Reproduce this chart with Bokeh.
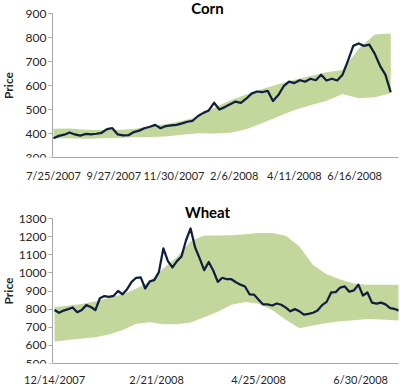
import numpy as np
from bokeh.plotting import figure
from bokeh.layouts import column
from bokeh.models import FixedTicker, Label, Range1d
from bokeh.embed import file_html
from bokeh.resources import INLINE

# ---------------- data ----------------
# Corn: price sampled every 4 trading days from 7/25/2007
corn_step = 4
corn_price = [380, 390, 395, 404, 396, 391, 398, 396, 399, 403,
              418, 422, 396, 392, 393, 406, 412, 422, 428, 436,
              422, 431, 434, 436, 442, 449, 453, 473, 486, 496,
              528, 500, 510, 522, 533, 528, 545, 566, 575, 572,
              578, 535, 560, 597, 616, 610, 622, 616, 628, 622,
              645, 621, 628, 621, 645, 703, 765, 775, 765, 770,
              733, 682, 645, 572]
# Corn band sampled every 12 trading days
corn_band_step = 12
corn_lower = [380, 380, 378, 380, 381, 384, 385, 388, 395, 401, 400,
              403, 418, 444, 471, 498, 518, 536, 565, 547, 551, 568]
corn_upper = [420, 421, 416, 415, 415, 419, 430, 440, 452, 471, 507,
              538, 562, 585, 605, 624, 640, 655, 665, 752, 813, 817]
corn_tick_labels = ["7/25/2007", "9/27/2007", "11/30/2007", "2/6/2008",
                    "4/11/2008", "6/16/2008"]

# Wheat: price sampled every 2 trading days from 12/14/2007
wheat_step = 2
wheat_price = [795, 780, 792, 800, 809, 783, 795, 822, 812, 795,
               860, 872, 868, 873, 900, 882, 910, 950, 973, 975,
               914, 953, 960, 1004, 1135, 1065, 1030, 1065, 1090, 1180,
               1245, 1140, 1080, 1015, 1060, 1013, 950, 973, 965, 965,
               948, 935, 925, 882, 880, 852, 826, 826, 820, 831,
               824, 808, 788, 800, 788, 770, 774, 780, 792, 822,
               840, 892, 894, 919, 925, 896, 903, 935, 875, 892,
               836, 830, 836, 826, 805, 801, 792]
# Wheat band sampled every 6 trading days
wheat_band_step = 6
wheat_lower = [621, 629, 638, 645, 660, 685, 719, 728, 716, 717, 726, 755, 786,
               824, 840, 830, 795, 742, 694, 710, 724, 733, 738, 745, 743, 738, 737]
wheat_upper = [811, 819, 828, 843, 862, 882, 912, 952, 1025, 1088, 1175, 1206, 1206,
               1207, 1213, 1220, 1220, 1205, 1145, 1043, 993, 964, 942, 935, 935, 935, 935]
wheat_tick_labels = ["12/14/2007", "2/21/2008", "4/25/2008", "6/30/2008"]

label_every = 45  # trading days between date labels

# ---------------- style ----------------
FONT = "Lato"
GREEN = "#C3D69B"
NAVY = "#0F1F3D"
AXIS = "#A6A6A6"
TEXT = "#262626"

W = 400
AXIS_PX = 52      # where the value axis sits
RIGHT_PX = 398    # right end of the plotting area


def make_chart(title, title_x, title_offset, price, step, lower, upper, band_step,
               tick_labels, y_lo, y_hi, x_axis, x_hi, height, top_pad, plot_h,
               bottom, standoff, ylabel_standoff):
    # frame spans full width and top; value axis placed with fixed_location/bounds
    ppu_x = (RIGHT_PX - AXIS_PX) / (x_hi - x_axis)
    x_lo = x_axis - AXIS_PX / ppu_x
    ppu_y = plot_h / (y_hi - y_lo)
    y_top = y_hi + top_pad / ppu_y

    p = figure(width=W, height=height, output_backend="svg", toolbar_location=None,
               x_range=Range1d(x_lo, x_hi), y_range=Range1d(y_lo, y_top),
               min_border_left=0, min_border_right=W - RIGHT_PX,
               min_border_top=0, min_border_bottom=bottom)
    xb = np.arange(len(lower)) * band_step
    p.varea(x=xb, y1=lower, y2=upper, fill_color=GREEN, fill_alpha=1.0)
    xp = np.arange(len(price)) * step
    p.line(xp, price, line_color=NAVY, line_width=2.25, line_join="round")

    ticks = [label_every * j for j in range(len(tick_labels))]
    p.xaxis.ticker = FixedTicker(ticks=ticks)
    p.xaxis.major_label_overrides = {t: lab for t, lab in zip(ticks, tick_labels)}
    p.xaxis.bounds = (x_axis, x_hi)
    p.xaxis.major_tick_out = 0
    p.xaxis.major_tick_in = 0
    p.xaxis.minor_tick_out = 0
    p.xaxis.minor_tick_in = 0
    p.xaxis.axis_line_color = AXIS
    p.xaxis.major_label_text_font = FONT
    p.xaxis.major_label_text_font_size = "11px"
    p.xaxis.major_label_text_color = TEXT
    p.xaxis.major_label_standoff = standoff

    p.yaxis.fixed_location = x_axis
    p.yaxis.bounds = (y_lo, y_hi)
    p.yaxis.ticker = FixedTicker(ticks=list(range(y_lo, y_hi + 1, 100)))
    p.yaxis.axis_label = "Price"
    p.yaxis.axis_label_text_font = FONT
    p.yaxis.axis_label_text_font_style = "bold"
    p.yaxis.axis_label_text_font_size = "12px"
    p.yaxis.axis_label_text_color = TEXT
    p.yaxis.axis_label_standoff = ylabel_standoff
    p.yaxis.major_label_text_font = FONT
    p.yaxis.major_label_text_font_size = "12px"
    p.yaxis.major_label_text_color = TEXT
    p.yaxis.major_label_standoff = 2
    p.yaxis.major_tick_out = 4
    p.yaxis.major_tick_in = 0
    p.yaxis.minor_tick_out = 0
    p.yaxis.minor_tick_in = 0
    p.yaxis.axis_line_color = AXIS
    p.yaxis.major_tick_line_color = AXIS

    p.grid.visible = False
    p.outline_line_color = None
    p.background_fill_color = "white"
    p.border_fill_color = "white"

    p.add_layout(Label(x=title_x, y=y_hi, text=title, text_align="center",
                       text_baseline="middle", y_offset=title_offset,
                       text_font=FONT, text_font_style="bold",
                       text_font_size="15px", text_color="#000000"))
    return p


corn = make_chart("Corn", 115, 6, corn_price, corn_step, corn_lower, corn_upper,
                  corn_band_step, corn_tick_labels, 300, 900, -0.75, 257.8,
                  height=200, top_pad=13, plot_h=144, bottom=43, standoff=11,
                  ylabel_standoff=7)
wheat = make_chart("Wheat", 67.5, 6.5, wheat_price, wheat_step, wheat_lower, wheat_upper,
                   wheat_band_step, wheat_tick_labels, 500, 1300, -0.9, 151.7,
                   height=189, top_pad=18, plot_h=145, bottom=26, standoff=9,
                   ylabel_standoff=0)

layout = column(corn, wheat, spacing=0)
open("out.html", "w").write(file_html(layout, INLINE))
